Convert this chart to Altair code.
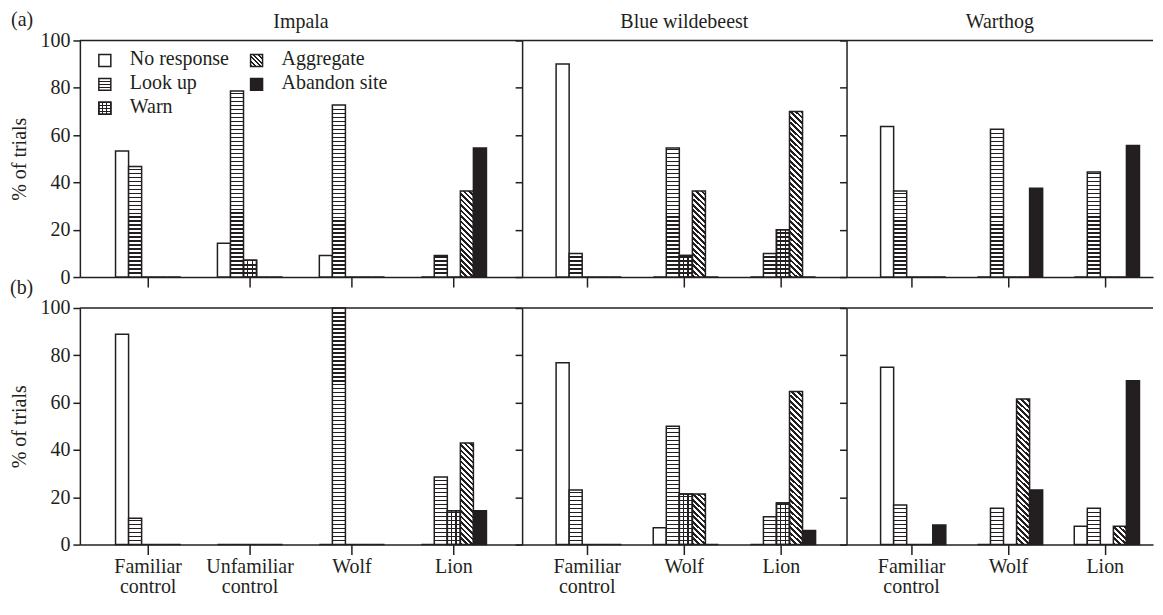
import altair as alt

INK = "#231f20"
FONT = "Liberation Serif"

species = ["Impala", "Blue wildebeest", "Warthog"]
treatments_impala = ["Familiar control", "Unfamiliar control", "Wolf", "Lion"]
treatments_other = ["Familiar control", "Wolf", "Lion"]
responses = ["No response", "Look up", "Warn", "Aggregate", "Abandon site"]

# % of trials, one list per treatment, in the order of `responses`
a_impala = [[53.3, 46.7, 0, 0, 0], [14.3, 78.6, 7.1, 0, 0], [9.1, 72.7, 0, 0, 0], [0, 9.1, 0, 36.4, 54.5]]
a_wildebeest = [[90, 10, 0, 0, 0], [0, 54.5, 9.1, 36.4, 0], [0, 10, 20, 70, 0]]
a_warthog = [[63.6, 36.4, 0, 0, 0], [0, 62.5, 0, 0, 37.5], [0, 44.4, 0, 0, 55.6]]
b_impala = [[88.9, 11.1, 0, 0, 0], [0, 0, 0, 0, 0], [0, 100, 0, 0, 0], [0, 28.6, 14.3, 42.9, 14.3]]
b_wildebeest = [[76.9, 23.1, 0, 0, 0], [7.1, 50, 21.4, 21.4, 0], [0, 11.8, 17.6, 64.7, 5.9]]
b_warthog = [[75, 16.7, 0, 0, 8.3], [0, 15.4, 0, 61.5, 23.1], [7.7, 15.4, 0, 7.7, 69.2]]

panel_width = {"Impala": 443, "Blue wildebeest": 325, "Warthog": 307}
# band padding (inner, outer, align) per panel
panel_pad = {"Impala": (0.36, 0.35, 0.5), "Blue wildebeest": (0.36, 0.35, 0.5), "Warthog": (0.36, 0.2625, 0.67)}
PANEL_H = 237


def r4(v):
    return round(v, 4)


def hstripes(h, period=4.0, line=1.3, bg="white"):
    stops = [{"offset": 0, "color": bg}]
    k = 1
    while k * period + line / 2 < h - 0.5:
        a = r4((k * period - line / 2) / h)
        b = r4((k * period + line / 2) / h)
        stops += [{"offset": a, "color": bg}, {"offset": a, "color": INK},
                  {"offset": b, "color": INK}, {"offset": b, "color": bg}]
        k += 1
    stops.append({"offset": 1, "color": bg})
    return {"gradient": "linear", "x1": 0, "y1": 1, "x2": 0, "y2": 0, "stops": stops}


def vstripes(w, line=1.2):
    bg = "transparent"
    stops = [{"offset": 0, "color": bg}]
    for f in (1 / 3, 2 / 3):
        a = r4(f - line / 2 / w)
        b = r4(f + line / 2 / w)
        stops += [{"offset": a, "color": bg}, {"offset": a, "color": INK},
                  {"offset": b, "color": INK}, {"offset": b, "color": bg}]
    stops.append({"offset": 1, "color": bg})
    return {"gradient": "linear", "x1": 0, "y1": 0, "x2": 1, "y2": 0, "stops": stops}


def diag(w, h, period=5.5, frac=0.5):
    g = (w + h) / (w * w + h * h)
    pt = period / (w + h)
    stops = []
    a = 0.0
    while a < 1:
        b = min(1.0, a + frac * pt)
        c = min(1.0, a + pt)
        stops += [{"offset": r4(a), "color": INK}, {"offset": r4(b), "color": INK},
                  {"offset": r4(b), "color": "white"}, {"offset": r4(c), "color": "white"}]
        a += pt
    return {"gradient": "linear", "x1": 0, "y1": 1, "x2": r4(g * w), "y2": r4(1 - g * h), "stops": stops}


def records(treatments, values, W, pad):
    pi, po, _ = pad
    n = len(treatments)
    step = W / (n - pi + 2 * po)
    w = step * (1 - pi) / len(responses)
    recs = []
    for t, vals in zip(treatments, values):
        for r, v in zip(responses, vals):
            h = v / 100 * PANEL_H
            if v <= 0 or r == "No response":
                fill = "white"
            elif r in ("Look up", "Warn"):
                fill = hstripes(h)
            elif r == "Aggregate":
                fill = diag(w, h)
            else:
                fill = INK
            over = vstripes(w) if (r == "Warn" and v > 0) else "transparent"
            recs.append({"treatment": t, "response": r, "value": v, "fill": fill, "over": over})
    return recs


def text_layer(txt, x, y, align="left"):
    return alt.Chart(alt.Data(values=[{"t": txt}])).mark_text(
        align=align, baseline="alphabetic", font=FONT, fontSize=20, color=INK).encode(
        text="t:N", x=alt.value(x), y=alt.value(y))


def legend_layers():
    layers = []
    icon = {
        "No response": "white",
        "Look up": hstripes(12, period=3, line=1.2),
        "Warn": hstripes(12, period=3, line=1.2),
        "Aggregate": diag(12, 12, period=4.5),
        "Abandon site": INK,
    }
    one = alt.Data(values=[{"k": 0}])
    for i, r in enumerate(responses):
        col = 0 if i < 3 else 1
        row = i if i < 3 else i - 3
        sx = [19, 171][col]
        sy = 14 + 24 * row
        layers.append(
            alt.Chart(one).mark_rect(fill=icon[r], stroke=INK, strokeWidth=1.5).encode(
                x=alt.value(sx), x2=alt.value(sx + 12), y=alt.value(sy), y2=alt.value(sy + 12)))
        if r == "Warn":
            layers.append(
                alt.Chart(one).mark_rect(fill=vstripes(12), stroke=INK, strokeWidth=1.5).encode(
                    x=alt.value(sx), x2=alt.value(sx + 12), y=alt.value(sy), y2=alt.value(sy + 12)))
        layers.append(text_layer(r, sx + 31, sy + 11))
    return layers


def panel(sp, treatments, values, row):
    W = panel_width[sp]
    pi, po, al = panel_pad[sp]
    first = sp == species[0]
    data = alt.Data(values=records(treatments, values, W, panel_pad[sp]))
    xaxis = alt.Axis(title="", labels=(row == "b"), labelExpr="split(datum.label, ' ')", labelAngle=0,
                     tickSize=10, labelPadding=2, labelLineHeight=20, labelFontSize=20)
    yaxis = alt.Axis(values=[0, 20, 40, 60, 80, 100], labels=first, title="% of trials" if first else "",
                     tickSize=7, labelPadding=3, labelFlush=False, titlePadding=10)
    base = alt.Chart(data).encode(
        x=alt.X("treatment:N", sort=treatments,
                scale=alt.Scale(paddingInner=pi, paddingOuter=po, align=al), axis=xaxis),
        xOffset=alt.XOffset("response:N", sort=responses, scale=alt.Scale(paddingInner=0, paddingOuter=0)),
        y=alt.Y("value:Q", scale=alt.Scale(domain=[0, 100], nice=False), axis=yaxis),
    )
    bars = base.mark_bar(stroke=INK, strokeWidth=1.5).encode(fill=alt.Fill("fill:N", scale=None))
    over = base.transform_filter("datum.response == 'Warn' && datum.value > 0").mark_bar(
        stroke=INK, strokeWidth=1.5).encode(fill=alt.Fill("over:N", scale=None))
    top = alt.Chart(alt.Data(values=[{"k": 0}])).mark_rule(color=INK, strokeWidth=1.5).encode(y=alt.datum(100))
    layers = [bars, over, top]
    if row == "a":
        layers.append(text_layer(sp, W / 2, -12, align="center"))
    if first:
        if row == "a":
            layers.append(text_layer("(a)", -69, -14))
            layers += legend_layers()
        else:
            layers.append(text_layer("(b)", -70, -14))
    return alt.layer(*layers).properties(width=W, height=PANEL_H)


panels = [
    panel("Impala", treatments_impala, a_impala, "a"),
    panel("Blue wildebeest", treatments_other, a_wildebeest, "a"),
    panel("Warthog", treatments_other, a_warthog, "a"),
    panel("Impala", treatments_impala, b_impala, "b"),
    panel("Blue wildebeest", treatments_other, b_wildebeest, "b"),
    panel("Warthog", treatments_other, b_warthog, "b"),
]

chart = alt.concat(*panels, columns=3, spacing={"row": 31, "column": 0}, bounds="flush").properties(
    padding={"left": 1, "top": 1, "right": 0, "bottom": 0}
).configure(font=FONT).configure_view(stroke="transparent").configure_axis(
    domainColor=INK, domainWidth=1.5, tickColor=INK, tickWidth=1.5, labelColor=INK, labelFont=FONT,
    labelFontSize=20, titleFont=FONT, titleFontSize=20, titleColor=INK, titleFontWeight="normal", grid=False)

chart.save("out.html", embed_options={"renderer": "svg", "actions": False})
